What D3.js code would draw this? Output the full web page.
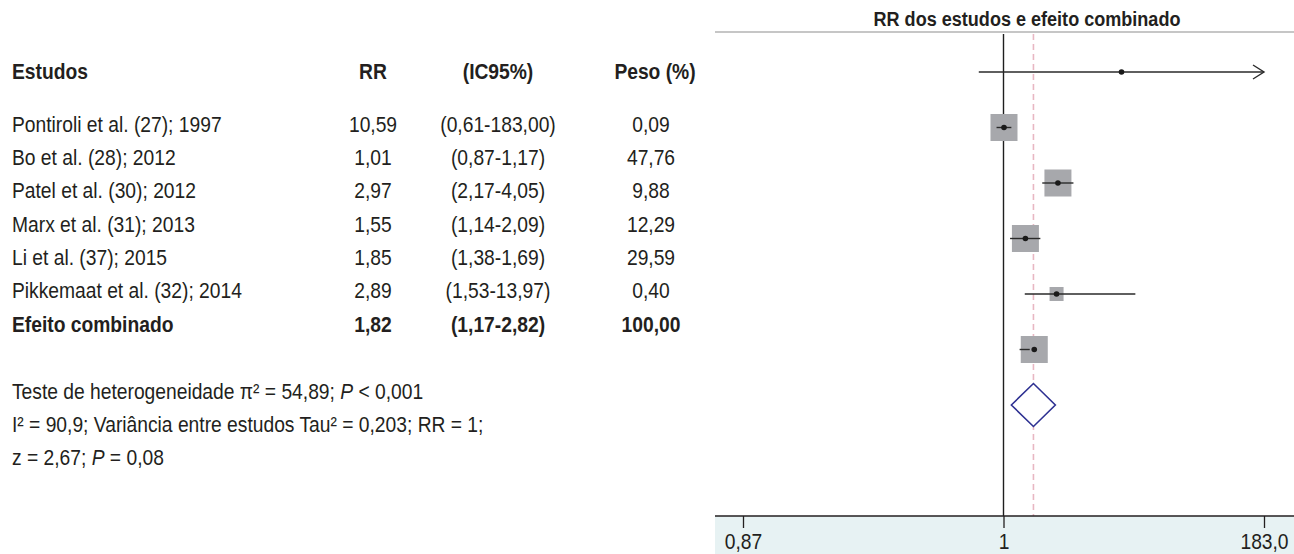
<!DOCTYPE html>
<html>
<head>
<meta charset="utf-8">
<script src="https://cdn.jsdelivr.net/npm/d3@7"></script>
<style>
  html, body { margin: 0; padding: 0; background: #fff; }
  svg { display: block; font-family: "Liberation Sans", Arial, sans-serif; }
</style>
</head>
<body>
<svg id="chart" width="1294" height="554"></svg>
<script>
// ---- Study data (RR, 95% CI, weight) ----
const studies = [
  "Pontiroli et al. (27); 1997",
  "Bo et al. (28); 2012",
  "Patel et al. (30); 2012",
  "Marx et al. (31); 2013",
  "Li et al. (37); 2015",
  "Pikkemaat et al. (32); 2014"
];
const rr      = [10.59, 1.01, 2.97, 1.55, 1.85, 2.89];
const ciLow   = [0.61, 0.87, 2.17, 1.14, 1.38, 1.53];
const ciHigh  = [183.00, 1.17, 4.05, 2.09, 1.69, 13.97];
const weights = [0.09, 47.76, 9.88, 12.29, 29.59, 0.40];

// order of the studies in the forest panel (top to bottom)
const plotOrder = [0, 1, 2, 3, 5, 4];

// pooled estimate
const pooledLabel  = "Efeito combinado";
const pooledRR     = 1.82;
const pooledLow    = 1.17;
const pooledHigh   = 2.82;
const pooledWeight = 100.00;

// column headers and panel title
const headers = ["Estudos", "RR", "(IC95%)", "Peso (%)"];
const panelTitle = "RR dos estudos e efeito combinado";

// axis ticks
const axisTickValues = [1 / 183, 1, 183];
const axisTickLabels = ["0,87", "1", "183,0"];

// heterogeneity statistics
const statLines = [
  [["Teste de heterogeneidade π² = 54,89; ", false], ["P", true], [" < 0,001", false]],
  [["I² = 90,9; Variância entre estudos Tau² = 0,203; RR = 1;", false]],
  [["z = 2,67; ", false], ["P", true], [" = 0,08", false]]
];

// ---- Drawing ----
const ptBR = d3.formatLocale({ decimal: ",", thousands: ".", grouping: [3], currency: ["R$", ""] });
const f2 = ptBR.format(".2f");

const svg = d3.select("#chart");
const ink = "#231f20";
const fontSize = 22;
const narrow = 0.875;   // horizontal squeeze for a condensed face

// text placed at (x, y), condensed horizontally around its anchor
function label(parent, x, y, str, opts = {}) {
  return parent.append("text")
    .attr("transform", `translate(${x},${y}) scale(${opts.sx || narrow},1)`)
    .attr("text-anchor", opts.anchor || "start")
    .attr("font-weight", opts.bold ? "bold" : "normal")
    .attr("fill", ink)
    .style("font-size", (opts.size || fontSize) + "px")
    .text(str);
}

// Table columns
const colX = { name: 12, rr: 373, ci: 498, w: 651 };
const headerY = 79;
const rowY = d3.scalePoint().domain(d3.range(studies.length + 1)).range([131.7, 331.7]);

const table = svg.append("g");
label(table, colX.name, headerY, headers[0], { bold: true });
label(table, colX.rr, headerY, headers[1], { bold: true, anchor: "middle" });
label(table, colX.ci, headerY, headers[2], { bold: true, anchor: "middle" });
label(table, colX.w + 4, headerY, headers[3], { bold: true, anchor: "middle" });

const rows = studies.map((s, i) => ({
  name: s, rr: rr[i], lo: ciLow[i], hi: ciHigh[i], w: weights[i], bold: false
}));
rows.push({ name: pooledLabel, rr: pooledRR, lo: pooledLow, hi: pooledHigh, w: pooledWeight, bold: true });

rows.forEach((d, i) => {
  const yy = rowY(i);
  label(table, colX.name, yy, d.name, { bold: d.bold });
  label(table, colX.rr, yy, f2(d.rr), { bold: d.bold, anchor: "middle" });
  label(table, colX.ci, yy, `(${f2(d.lo)}-${f2(d.hi)})`, { bold: d.bold, anchor: "middle" });
  label(table, colX.w, yy, f2(d.w), { bold: d.bold, anchor: "middle" });
});

// Statistics text
const stats = svg.append("g");
statLines.forEach((segs, i) => {
  const t = label(stats, colX.name, 399 + i * 33, null);
  segs.forEach(([txt, it]) => {
    t.append("tspan").attr("font-style", it ? "italic" : "normal").text(txt);
  });
});

// Forest panel
const panel = { left: 715, right: 1294, top: 32, axisY: 516 };
const x = d3.scaleLog().domain([1 / 183, 183]).range([743, 1264]);
const plotKeys = plotOrder.map(String).concat(["pooled"]);
const y = d3.scalePoint().domain(plotKeys).range([72, 405]);
const boxSize = d3.scaleLinear().domain([0, 27 / 35]).range([0, 27]).clamp(true);

// axis band
svg.append("rect")
  .attr("x", panel.left).attr("y", panel.axisY)
  .attr("width", panel.right - panel.left).attr("height", 554 - panel.axisY)
  .attr("fill", "#e7f2f3");

// title and rule
label(svg, 1027, 26, panelTitle, { bold: true, anchor: "middle", size: 21, sx: 0.86 });
svg.append("line")
  .attr("x1", panel.left).attr("x2", panel.right)
  .attr("y1", panel.top).attr("y2", panel.top)
  .attr("stroke", "#b3b3b3").attr("stroke-width", 1.5);

// pooled-estimate dashed reference
svg.append("line")
  .attr("x1", x(pooledRR)).attr("x2", x(pooledRR))
  .attr("y1", panel.top + 2).attr("y2", panel.axisY)
  .attr("stroke", "#e8b7c3").attr("stroke-width", 1.6)
  .attr("stroke-dasharray", "6,4");

// null line (RR = 1)
svg.append("line")
  .attr("x1", x(1)).attr("x2", x(1))
  .attr("y1", panel.top + 2).attr("y2", panel.axisY)
  .attr("stroke", "#1e1e1e").attr("stroke-width", 1.4);

// axis
const axis = d3.axisBottom(x)
  .tickValues(axisTickValues)
  .tickFormat((d, i) => axisTickLabels[i])
  .tickSize(12)
  .tickPadding(5)
  .tickSizeOuter(0);
const axisG = svg.append("g").attr("transform", `translate(0,${panel.axisY})`).call(axis);
axisG.select(".domain").remove();
axisG.selectAll(".tick line").attr("stroke", ink).attr("stroke-width", 1.3);
axisG.selectAll(".tick text")
  .attr("fill", ink)
  .attr("transform", `scale(${narrow},1)`)
  .style("font-size", fontSize + "px")
  .style("font-family", '"Liberation Sans", Arial, sans-serif');
svg.append("line")
  .attr("x1", panel.left).attr("x2", panel.right)
  .attr("y1", panel.axisY).attr("y2", panel.axisY)
  .attr("stroke", ink).attr("stroke-width", 1.3);

// study markers
const [dMin, dMax] = x.domain();
const marks = svg.append("g");
plotOrder.forEach(i => {
  const cy = y(String(i));
  const s = boxSize(weights[i]);
  const g = marks.append("g");
  g.append("rect")
    .attr("x", x(rr[i]) - s / 2).attr("y", cy - s / 2)
    .attr("width", s).attr("height", s)
    .attr("fill", "#a7a8ac");
  g.append("line")
    .attr("x1", x(Math.max(ciLow[i], dMin))).attr("x2", x(Math.min(ciHigh[i], dMax)))
    .attr("y1", cy).attr("y2", cy)
    .attr("stroke", "#2a2a2a").attr("stroke-width", 1.4);
  if (ciHigh[i] >= dMax) {
    const xe = x(dMax);
    g.append("path")
      .attr("d", `M${xe - 11},${cy - 7}L${xe},${cy}L${xe - 11},${cy + 7}`)
      .attr("fill", "none").attr("stroke", "#2a2a2a").attr("stroke-width", 1.4);
  }
  g.append("circle")
    .attr("cx", x(rr[i])).attr("cy", cy).attr("r", 2.8)
    .attr("fill", "#1a1a1a");
});

// pooled diamond
const py = y("pooled");
svg.append("path")
  .attr("d", `M${x(pooledLow)},${py}L${x(pooledRR)},${py - 21.5}L${x(pooledHigh)},${py}L${x(pooledRR)},${py + 21.5}Z`)
  .attr("fill", "#fff")
  .attr("stroke", "#2e3192")
  .attr("stroke-width", 1.6);
</script>
</body>
</html>
